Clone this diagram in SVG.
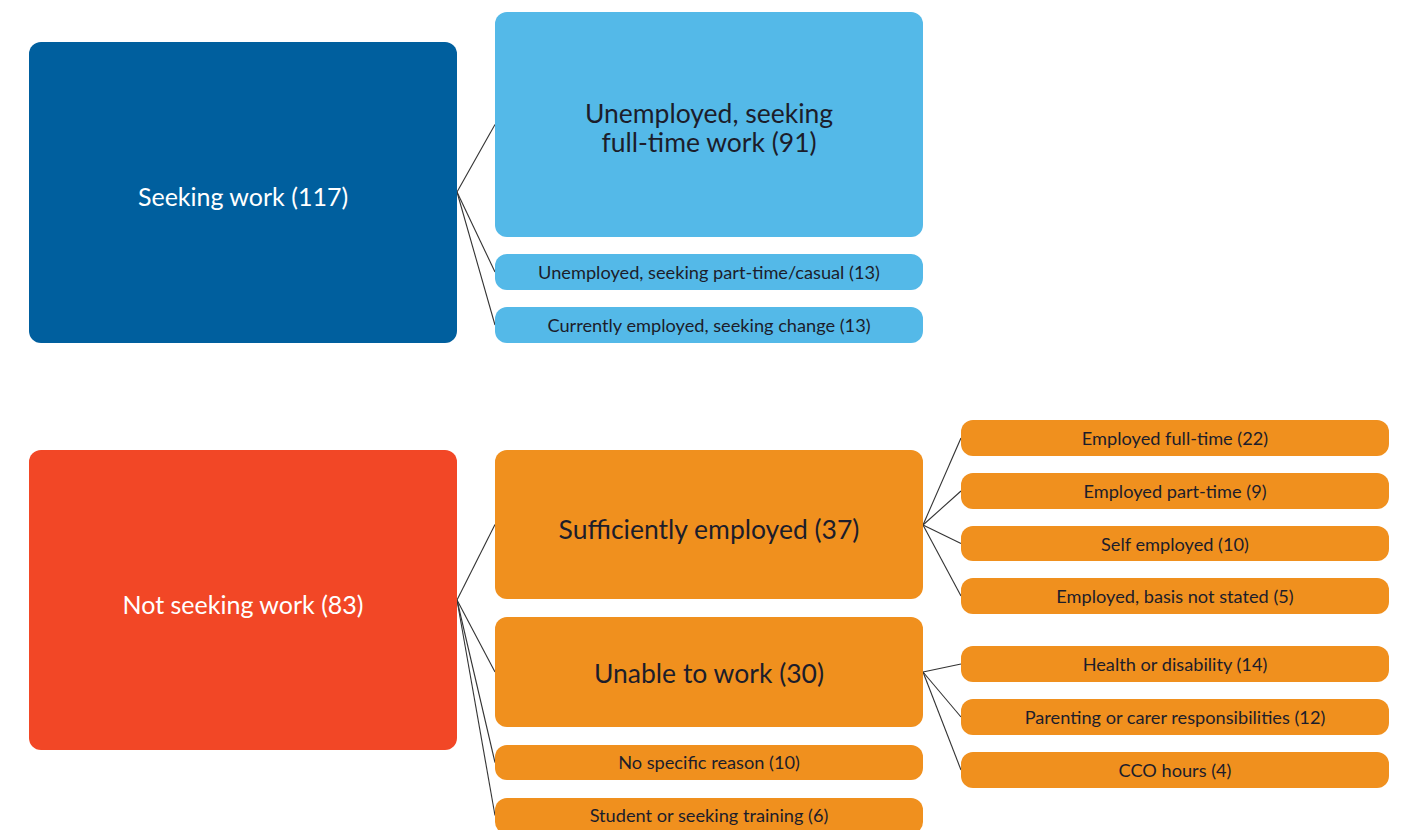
<svg xmlns="http://www.w3.org/2000/svg" width="1407" height="830" viewBox="0 0 1407 830">
  <style>
    .dark { fill: #005f9e; }
    .light { fill: #54b9e8; }
    .red { fill: #f24726; }
    .orange { fill: #f0901e; }
    text { font-family: Lato, "Open Sans", sans-serif; text-anchor: middle; dominant-baseline: central; }
    .root { fill: #ffffff; font-size: 25px; }
    .mid { fill: #1c1d2b; font-size: 26.5px; }
    .leaf { fill: #1c1d2b; font-size: 18.2px; }
    .links line { stroke: #333333; stroke-width: 1.1; }
  </style>
  <rect width="1407" height="830" fill="#ffffff"/>

  <g class="links">
    <line x1="457" y1="192" x2="495" y2="124.5"/>
    <line x1="457" y1="192" x2="495" y2="272"/>
    <line x1="457" y1="192" x2="495" y2="325"/>
    <line x1="457" y1="600" x2="495" y2="524.5"/>
    <line x1="457" y1="600" x2="495" y2="672"/>
    <line x1="457" y1="600" x2="495" y2="762.5"/>
    <line x1="457" y1="600" x2="495" y2="815.5"/>
    <line x1="923" y1="525" x2="961" y2="438"/>
    <line x1="923" y1="525" x2="961" y2="491"/>
    <line x1="923" y1="525" x2="961" y2="543.5"/>
    <line x1="923" y1="525" x2="961" y2="596"/>
    <line x1="923" y1="672" x2="961" y2="664"/>
    <line x1="923" y1="672" x2="961" y2="717"/>
    <line x1="923" y1="672" x2="961" y2="770"/>
  </g>

  <g id="seeking-work">
    <rect class="dark" x="29" y="42" width="428" height="301" rx="12"/>
    <text class="root" x="243" y="196">Seeking work (117)</text>
  </g>
  <g id="unemployed-full-time">
    <rect class="light" x="495" y="12" width="428" height="225" rx="12"/>
    <text class="mid" x="709" y="113">Unemployed, seeking</text>
    <text class="mid" x="709" y="142">full-time work (91)</text>
  </g>
  <g id="unemployed-part-time">
    <rect class="light" x="495" y="254" width="428" height="36" rx="12"/>
    <text class="leaf" x="709" y="272">Unemployed, seeking part-time/casual (13)</text>
  </g>
  <g id="employed-seeking-change">
    <rect class="light" x="495" y="307" width="428" height="36" rx="12"/>
    <text class="leaf" x="709" y="325">Currently employed, seeking change (13)</text>
  </g>

  <g id="not-seeking-work">
    <rect class="red" x="29" y="450" width="428" height="300" rx="12"/>
    <text class="root" x="243" y="604">Not seeking work (83)</text>
  </g>
  <g id="sufficiently-employed">
    <rect class="orange" x="495" y="450" width="428" height="149" rx="12"/>
    <text class="mid" x="709" y="529">Sufficiently employed (37)</text>
  </g>
  <g id="unable-to-work">
    <rect class="orange" x="495" y="617" width="428" height="110" rx="12"/>
    <text class="mid" x="709" y="673">Unable to work (30)</text>
  </g>
  <g id="no-specific-reason">
    <rect class="orange" x="495" y="745" width="428" height="35" rx="12"/>
    <text class="leaf" x="709" y="762">No specific reason (10)</text>
  </g>
  <g id="student-or-training">
    <rect class="orange" x="495" y="798" width="428" height="36" rx="12"/>
    <text class="leaf" x="709" y="815">Student or seeking training (6)</text>
  </g>

  <g id="employed-full-time">
    <rect class="orange" x="961" y="420" width="428" height="36" rx="12"/>
    <text class="leaf" x="1175" y="438">Employed full-time (22)</text>
  </g>
  <g id="employed-part-time">
    <rect class="orange" x="961" y="473" width="428" height="36" rx="12"/>
    <text class="leaf" x="1175" y="491">Employed part-time (9)</text>
  </g>
  <g id="self-employed">
    <rect class="orange" x="961" y="526" width="428" height="35" rx="12"/>
    <text class="leaf" x="1175" y="544">Self employed (10)</text>
  </g>
  <g id="employed-basis-not-stated">
    <rect class="orange" x="961" y="578" width="428" height="36" rx="12"/>
    <text class="leaf" x="1175" y="596">Employed, basis not stated (5)</text>
  </g>
  <g id="health-or-disability">
    <rect class="orange" x="961" y="646" width="428" height="36" rx="12"/>
    <text class="leaf" x="1175" y="664">Health or disability (14)</text>
  </g>
  <g id="parenting-or-carer">
    <rect class="orange" x="961" y="699" width="428" height="36" rx="12"/>
    <text class="leaf" x="1175" y="717">Parenting or carer responsibilities (12)</text>
  </g>
  <g id="cco-hours">
    <rect class="orange" x="961" y="752" width="428" height="36" rx="12"/>
    <text class="leaf" x="1175" y="770">CCO hours (4)</text>
  </g>
</svg>
